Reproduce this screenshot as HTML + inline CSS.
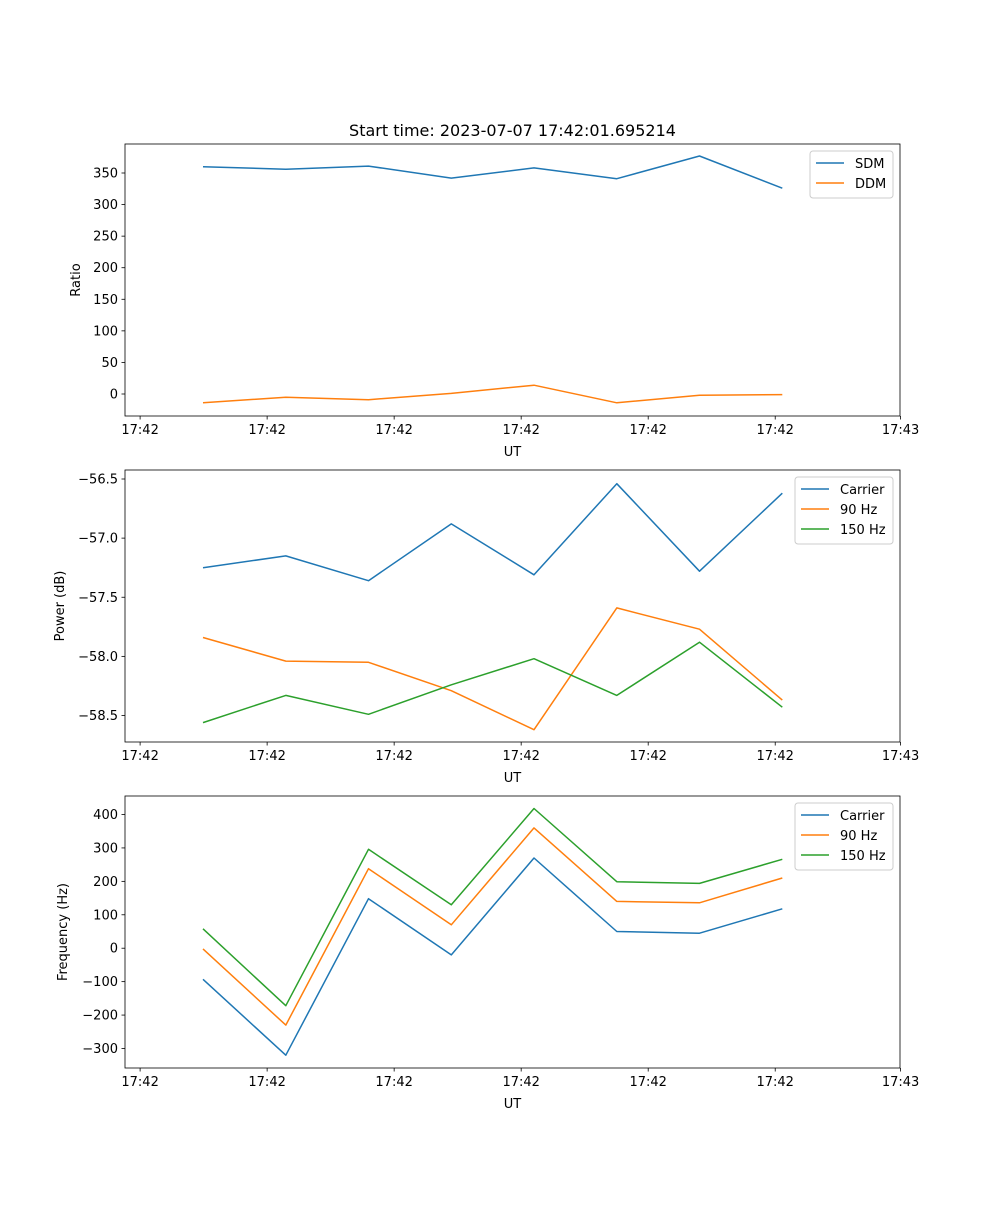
<!DOCTYPE html>
<html><head><meta charset="utf-8">
<style>
html,body{margin:0;padding:0;background:#fff;}
svg text{font-family:"DejaVu Sans","Liberation Sans",sans-serif;fill:#000;}
</style></head>
<body>
<svg id="fig" width="1000" height="1200" viewBox="0 0 1000 1200" xmlns="http://www.w3.org/2000/svg"></svg>
<script>
const xTickLabels = ["17:42","17:42","17:42","17:42","17:42","17:42","17:43"];
const xTickIdx = [-0.76,0.775,2.31,3.845,5.38,6.915,8.43];
const sdm = [360,356,361,342,358,341,377,326];
const ddm = [-14,-5,-9,1,14,-14,-2,-1];
const ratioTicks = [0,50,100,150,200,250,300,350];
const powCarrier = [-57.25,-57.15,-57.36,-56.88,-57.31,-56.54,-57.28,-56.62];
const pow90 = [-57.84,-58.04,-58.05,-58.29,-58.62,-57.59,-57.77,-58.37];
const pow150 = [-58.56,-58.33,-58.49,-58.24,-58.02,-58.33,-57.88,-58.43];
const powTicks = [-58.5,-58.0,-57.5,-57.0,-56.5];
const freqCarrier = [-93,-320,148,-20,270,50,45,118];
const freq90 = [-2,-230,238,70,360,140,136,210];
const freq150 = [58,-172,296,130,418,199,194,266];
const freqTicks = [-300,-200,-100,0,100,200,300,400];

const NS="http://www.w3.org/2000/svg";
const svg=document.getElementById('fig');
const L=125,R=900;
const xs=i=>203+i*82.75;
function mk(tag,attrs,parent){const e=document.createElementNS(NS,tag);for(const k in attrs)e.setAttribute(k,attrs[k]);(parent||svg).appendChild(e);return e;}
function txt(s,attrs,parent){const e=mk('text',attrs,parent);e.textContent=s;return e;}
function fmt(v,dec){return (v<0?'\u2212':'')+Math.abs(v).toFixed(dec);}

function panel(name,top,bot,yA,yB,ticks,dec,ylabel,ylabelX,series,legendW,title){
  const g=mk('g',{});
  
  
  const ys=v=>yA.px+(v-yA.v)*(yB.px-yA.px)/(yB.v-yA.v);
  series.forEach(s=>{
    const p=mk('polyline',{points:s.data.map((v,i)=>xs(i).toFixed(1)+','+ys(v).toFixed(1)).join(' '),fill:'none',stroke:s.color,'stroke-width':1.5,'stroke-linejoin':'round'},g);
    
    
  });
  const fr=mk('rect',{x:L,y:top,width:R-L,height:bot-top,fill:'none',stroke:'#000','stroke-width':0.8},g);
  
  
  ticks.forEach(t=>{
    const y=ys(t);
    mk('line',{x1:L-3.5,x2:L,y1:y,y2:y,stroke:'#000','stroke-width':0.8},g);
    const e=txt(fmt(t,dec),{x:L-7,y:y+4.5,'font-size':13,'text-anchor':'end'},g);
    
    
  });
  xTickIdx.forEach((t,k)=>{
    const x=xs(t);
    mk('line',{x1:x,x2:x,y1:bot,y2:bot+3.5,stroke:'#000','stroke-width':0.8},g);
    const e=txt(xTickLabels[k],{x:x,y:bot+18,'font-size':13,'text-anchor':'middle'},g);
    
    
  });
  const xl=txt('UT',{x:(L+R)/2,y:bot+40,'font-size':13,'text-anchor':'middle'},g);
  
  
  const cy=(top+bot)/2;
  const yl=txt(ylabel,{x:ylabelX,y:cy,'font-size':13,'text-anchor':'middle',transform:'rotate(-90 '+ylabelX+' '+cy+')'},g);
  
  
  if(title){
    const t=txt(title,{x:(L+R)/2,y:top-8,'font-size':16,'text-anchor':'middle'},g);
    
    
  }
  const lx=R-7-legendW, ly=top+7, lh=7+series.length*20;
  const lg=mk('g',{},g);
  
  
  mk('rect',{x:lx,y:ly,width:legendW,height:lh,rx:3,fill:'#fff','fill-opacity':0.8,stroke:'#ccc','stroke-width':1},lg);
  series.forEach((s,i)=>{
    const yy=ly+12+i*20;
    const en=mk('g',{},lg);
    
    
    mk('line',{x1:lx+6,x2:lx+34,y1:yy,y2:yy,stroke:s.color,'stroke-width':1.5},en);
    txt(s.label,{x:lx+45,y:yy+5,'font-size':13},en);
  });
}
panel('ratio',144,416,{v:0,px:394},{v:350,px:173},ratioTicks,0,'Ratio',80,
  [{key:'sdm',label:'SDM',data:sdm,color:'#1f77b4'},{key:'ddm',label:'DDM',data:ddm,color:'#ff7f0e'}],83,'Start time: 2023-07-07 17:42:01.695214');
panel('power',470,742,{v:-56.5,px:479},{v:-58.5,px:715.5},powTicks,1,'Power (dB)',64,
  [{key:'carrier',label:'Carrier',data:powCarrier,color:'#1f77b4'},{key:'90hz',label:'90 Hz',data:pow90,color:'#ff7f0e'},{key:'150hz',label:'150 Hz',data:pow150,color:'#2ca02c'}],98);
panel('frequency',796,1068,{v:400,px:814.5},{v:-300,px:1048.5},freqTicks,0,'Frequency (Hz)',67,
  [{key:'carrier',label:'Carrier',data:freqCarrier,color:'#1f77b4'},{key:'90hz',label:'90 Hz',data:freq90,color:'#ff7f0e'},{key:'150hz',label:'150 Hz',data:freq150,color:'#2ca02c'}],98);
</script>
</body></html>
